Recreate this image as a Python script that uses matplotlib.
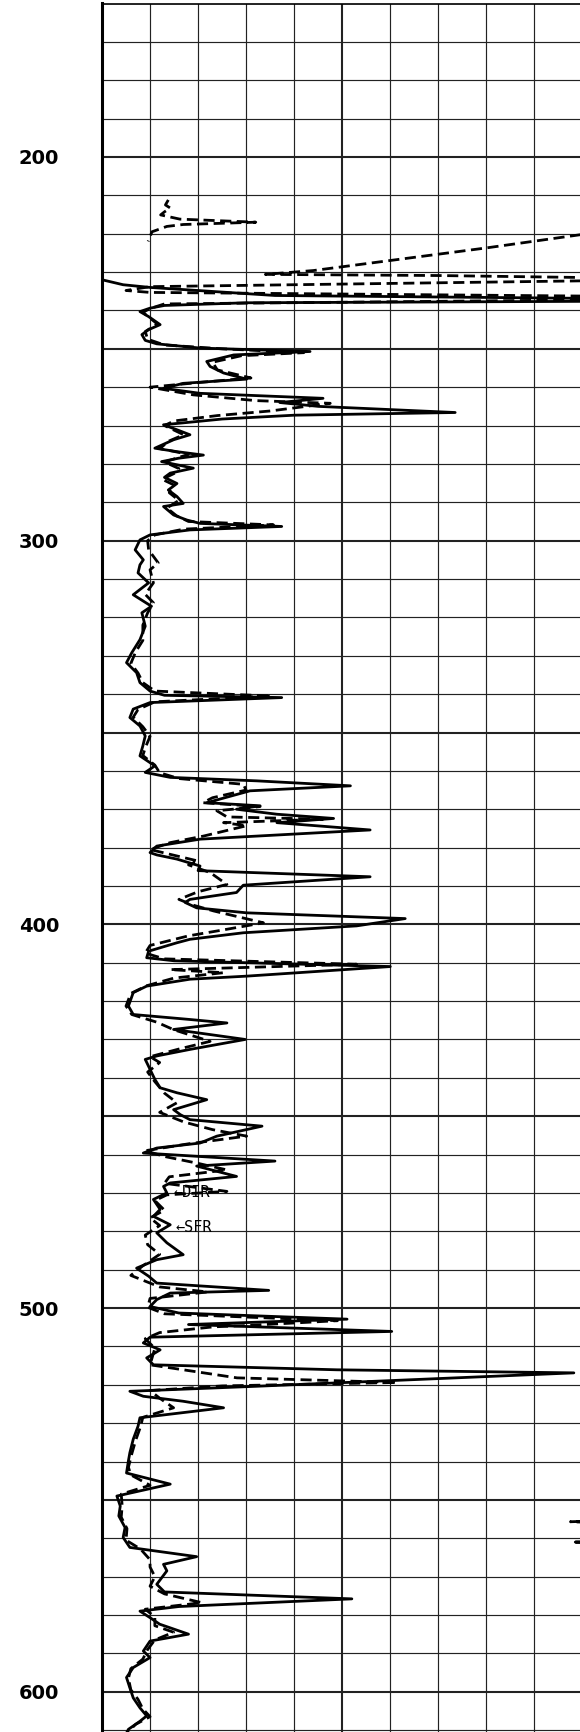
import numpy as np
import matplotlib
matplotlib.use("Agg")
import matplotlib.pyplot as plt

nan = np.nan

# SFR (solid) - value in chart divisions, depth
sfr_val = [0.0, 0.0, 0.44, 1.0, 2.0, 3.6, 10.5, 10.5, 3.0, 1.3, 1.0, 0.79, 0.97, 1.21, 0.97, 0.83, 0.9, 1.14,
           2.04, 4.33, 2.74, 2.18, 2.25, 2.53, 3.01, 1.69, 1.28, 2.04, 4.6, 3.7, 4.5, 7.35, 4.0, 2.5, 1.28, 1.56,
           1.83, 1.49, 1.1, 1.56, 2.11, 1.6, 1.24, 1.9, 1.42, 1.3, 1.56, 1.38, 1.56, 1.69, 1.28, 1.49, 1.76, 2.04,
           3.74, 1.83, 1.0, 0.79, 0.69, 0.86, 0.79, 0.75, 0.97, 0.65, 1.03, 0.83, 0.9, 0.79, 0.62, 0.51, 0.72, 0.79,
           1.0, 1.3, 3.74, 1.0, 0.65, 0.58, 0.79, 0.9, 0.85, 0.79, 1.1, 0.9, 1.42, 3.22, 5.17, 3.08, 2.18, 3.29,
           2.8, 3.64, 4.82, 3.64, 5.58, 2.04, 1.14, 1.0, 1.14, 1.56, 2.04, 2.0, 5.58, 2.94, 2.8, 1.83, 1.73, 1.97,
           3.01, 6.31, 5.3, 2.94, 1.83, 1.56, 0.97, 0.93, 1.5, 6.0, 3.01, 1.83, 0.93, 0.65, 0.55, 0.65, 1.83, 2.6,
           1.49, 2.98, 1.83, 1.14, 0.9, 1.0, 1.1, 1.21, 1.56, 2.18, 1.49, 1.63, 1.83, 3.33, 2.39, 2.04, 1.14, 0.86,
           3.6, 1.97, 2.8, 1.42, 1.28, 1.35, 1.07, 1.21, 1.07, 1.42, 1.14, 1.35, 1.69, 1.14, 0.72, 0.97, 1.14, 3.47,
           1.42, 1.14, 1.0, 1.6, 5.1, 1.8, 6.03, 1.0, 0.86, 1.21, 0.93, 1.07, 4.89, 9.82, 4.9, 3.2, 0.58, 0.86,
           1.69, 2.53, 0.79, 0.75, 0.65, 0.58, 0.55, 0.51, 1.42, 0.31, 0.38, 0.35, 0.48, 0.44, 0.58, 1.97, 1.28,
           1.35, 1.14, 1.3, 5.2, 1.6, 0.79, 1.0, 1.2, 1.8, 1.0, 0.86, 1.0, 0.65, 0.51, 0.58, 0.65, 0.79, 0.93,
           0.79, 0.55, 0.5]
sfr_depth = [219.5, 232.0, 233.3, 234.0, 234.8, 236.1, 236.9, 237.6, 238.0, 238.7, 239.4, 240.3, 241.6, 243.7,
             245.0, 246.3, 247.8, 248.7, 249.8, 250.7, 251.6, 253.3, 254.6, 256.3, 257.9, 259.0, 260.3, 261.6,
             262.9, 264.0, 265.0, 266.6, 267.3, 268.3, 269.8, 271.1, 272.4, 273.7, 275.9, 276.8, 277.7, 278.5,
             279.4, 281.1, 282.4, 283.5, 285.1, 286.8, 288.5, 290.3, 291.1, 293.3, 294.6, 295.5, 296.3, 297.2,
             298.5, 299.8, 302.4, 305.0, 306.3, 308.4, 311.0, 314.1, 317.1, 318.8, 322.3, 325.8, 329.2, 331.8,
             334.4, 337.0, 339.2, 340.3, 340.9, 342.2, 343.9, 346.1, 348.3, 350.9, 353.5, 356.1, 358.7, 360.4,
             361.7, 362.6, 363.9, 365.2, 368.3, 369.1, 370.0, 371.3, 372.4, 373.5, 375.4, 377.8, 379.6, 381.3,
             381.9, 383.0, 384.8, 386.0, 387.6, 389.8, 391.7, 393.5, 394.3, 395.7, 397.0, 398.5, 400.4, 402.2,
             403.9, 404.8, 407.0, 408.7, 409.5, 411.0, 413.5, 414.3, 416.1, 417.8, 421.3, 423.5, 424.8, 425.7,
             427.4, 430.0, 432.6, 434.3, 435.2, 437.8, 440.4, 442.6, 443.9, 445.7, 448.3, 449.6, 450.9, 452.6,
             455.2, 457.0, 458.3, 459.6, 461.7, 463.0, 465.7, 467.4, 468.3, 470.0, 471.7, 474.3, 476.1, 478.3,
             480.4, 483.0, 486.1, 487.4, 489.6, 491.7, 493.5, 495.4, 496.1, 497.8, 499.6, 501.3, 502.9, 504.3,
             506.1, 507.6, 509.1, 510.9, 513.0, 514.8, 516.1, 516.9, 519.5, 520.4, 521.7, 523.0, 524.3, 526.0,
             528.6, 530.8, 534.2, 537.7, 539.8, 543.0, 545.9, 549.0, 551.6, 554.2, 557.2, 559.8, 562.4, 564.8,
             566.8, 568.5, 572.0, 574.0, 575.8, 577.8, 579.0, 580.7, 582.4, 585.0, 586.8, 589.4, 591.1, 593.7,
             596.3, 599.0, 601.6, 604.2, 606.3, 607.7, 609.8, 611.0]

# DIR (dashed), nan splits the separate pieces
dir_val = [1.38, 1.32, 1.42, 1.3, 1.22, 1.62, 3.2, 1.69, 1.35, 1.04, 0.96, nan,
           10.5, 8.0, 4.4, 3.4, 7.0, 10.5, 10.5, 1.0, 0.5, 1.0, 10.5, 10.5, 1.3, 1.0, 0.85, 1.0, 1.15, 0.9, 0.95,
           1.3, 2.5, 4.2, 2.9, 2.3, 2.4, 3.1, 2.0, 1.0, 1.9, 3.2, 4.75, 3.5, 2.4, 1.5, 1.3, 1.7, 1.4, 1.2, 1.8,
           1.3, 1.6, 1.5, 1.25, 1.5, 1.4, 1.6, 1.35, 1.55, 1.8, 3.57, 1.7, 1.1, 0.95, 0.97, 1.17, 1.0, 1.07, 0.9,
           1.07, 0.95, 0.85, 0.85, 0.7, 0.6, 0.75, 0.85, 1.1, 3.53, 1.1, 0.75, 0.65, 0.85, 1.0, 0.9, 0.85, 1.1,
           1.2, 1.6, 2.94, 3.0, 2.3, 2.1, 3.29, 2.39, 2.6, 4.6, 2.53, 3.01, 2.11, 1.42, 1.0, 1.5, 2.0, 1.8, 2.25,
           2.6, 2.0, 1.6, 1.9, 2.32, 3.36, 2.5, 1.8, 1.0, 0.9, 1.3, 5.3, 1.42, 2.53, 1.5, 0.93, 0.6, 0.5, 0.62,
           1.14, 1.5, 2.25, 1.6, 1.0, 1.2, 0.95, 1.1, 1.3, 1.56, 1.2, 1.7, 2.3, 3.01, 1.8, 0.9, 1.3, 2.0, 2.6,
           1.4, 1.3, 2.6, 1.35, 1.1, 1.3, 1.0, 1.2, 0.9, 0.95, 1.2, 0.85, 0.6, 1.2, 2.2, 1.0, 0.95, 1.3, 4.9,
           2.94, 2.32, 1.2, 0.9, 1.1, 1.0, 1.8, 2.81, 6.14, 2.5, 1.0, 1.2, 1.49, 0.85, 0.8, 0.7, 0.62, 0.55, 0.6,
           1.0, 0.4, 0.42, 0.4, 0.52, 0.5, 0.8, 1.0, 1.0, 1.1, 1.0, 1.3, 2.08, 0.9, 1.1, 1.1, 1.49, 1.1, 0.95,
           0.85, 0.6, 0.55, 0.6, 0.75, 0.85, 1.0, 0.7, 0.5, nan,
           10.5, 9.75, 10.5, nan, 10.5, 9.85, 10.5]
dir_depth = [211.2, 212.5, 213.3, 214.3, 215.1, 216.2, 217.0, 217.6, 218.1, 219.5, 222.0, nan,
             219.3, 223.7, 229.6, 230.6, 230.9, 231.5, 232.2, 233.8, 234.8, 235.3, 236.3, 237.2, 238.3, 239.5,
             240.5, 242.0, 243.5, 245.5, 247.5, 249.0, 250.0, 251.0, 251.8, 253.5, 255.5, 257.6, 258.8, 260.0,
             262.0, 263.5, 264.2, 266.2, 267.4, 268.8, 270.0, 272.4, 274.0, 276.0, 277.5, 279.5, 281.2, 282.5,
             284.0, 285.5, 287.5, 289.5, 291.5, 293.5, 295.0, 295.9, 297.0, 298.5, 300.0, 302.4, 305.8, 307.6,
             311.0, 314.0, 316.2, 318.8, 322.0, 326.0, 329.0, 332.0, 334.5, 337.0, 339.2, 340.5, 342.0, 344.0,
             346.0, 348.5, 351.0, 354.0, 356.0, 358.5, 360.5, 362.0, 363.5, 365.0, 367.0, 368.3, 369.3, 370.4,
             372.0, 372.6, 373.5, 374.3, 377.0, 378.7, 380.5, 382.0, 383.5, 384.5, 386.5, 389.6, 391.5, 393.5,
             395.0, 396.5, 399.6, 401.5, 403.0, 405.5, 407.5, 409.0, 410.4, 411.8, 412.6, 414.0, 416.0, 418.0,
             421.3, 423.5, 425.5, 427.5, 430.5, 432.5, 434.5, 436.0, 438.5, 441.0, 444.0, 446.5, 449.0, 451.5,
             453.5, 455.2, 457.2, 459.0, 460.5, 462.3, 464.0, 465.8, 467.5, 469.6, 470.5, 472.0, 474.5, 476.5,
             478.5, 481.0, 483.5, 486.0, 489.0, 491.5, 494.5, 495.8, 497.5, 499.8, 501.5, 503.3, 504.6, 504.9,
             506.4, 508.0, 510.5, 514.8, 516.3, 518.2, 519.4, 520.3, 521.5, 523.5, 526.0, 528.5, 531.0, 534.5,
             538.0, 541.5, 543.5, 546.2, 548.5, 551.6, 554.5, 557.5, 560.5, 562.8, 565.6, 567.5, 570.0, 572.5,
             574.5, 576.8, 578.5, 580.5, 582.8, 584.5, 586.5, 589.0, 591.5, 594.0, 596.5, 599.5, 602.0, 604.5,
             606.5, 608.5, 611.0, nan,
             555.4, 555.7, 556.0, nan, 560.7, 561.0, 561.3]

depth_labels = [200, 300, 400, 500, 600]

fig = plt.figure(figsize=(5.8, 17.32), dpi=100)
ax = fig.add_axes([102 / 580, 0, 478 / 580, 1728.5 / 1732])
ax.set_xlim(0, 478 / 48.05)
ax.set_ylim(610.5, 160)

# grid
for d in np.arange(160, 611, 10):
    ax.axhline(d, color='#222222', lw=1.5 if d % 50 == 0 else 0.85, zorder=1)
for v in range(1, 10):
    ax.axvline(v, color='#222222', lw=1.5 if v == 5 else 0.85, zorder=1)

ax.plot(sfr_val, sfr_depth, color='black', lw=2.0, solid_joinstyle='round', zorder=3)
ax.plot(dir_val, dir_depth, color='black', lw=2.0, linestyle=(0, (4, 2)), zorder=3)

ax.text(1.48, 470, '\u2190DIR', fontsize=11, family='DejaVu Sans Mono', ha='left', va='center',
        zorder=4)
ax.text(1.52, 479, '\u2190SFR', fontsize=11, family='DejaVu Sans Mono', ha='left', va='center',
        zorder=4)

ax.set_xticks([])
ax.set_yticks(depth_labels)
ax.set_yticklabels([str(d) for d in depth_labels], fontsize=14, fontweight='bold')
ax.tick_params(axis='y', length=0, pad=31)
for side in ['right', 'bottom']:
    ax.spines[side].set_visible(False)
ax.spines['left'].set_linewidth(2.2)
ax.spines['top'].set_linewidth(1.2)

fig.savefig('out.png', dpi=100)
